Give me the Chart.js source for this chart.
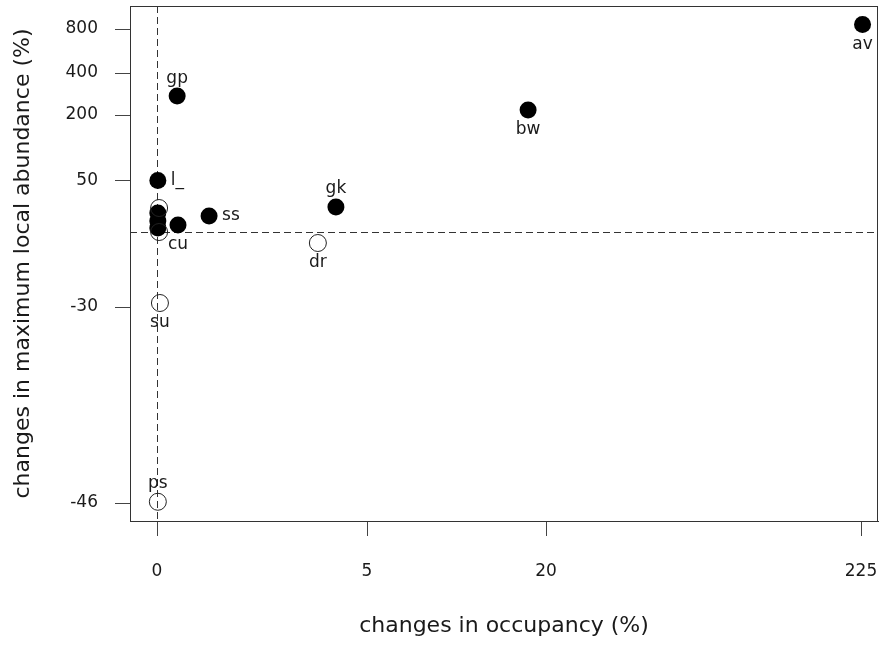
<!DOCTYPE html>
<html>
<head>
<meta charset="utf-8">
<script src="https://cdn.jsdelivr.net/npm/chart.js@4.4.0/dist/chart.umd.min.js"></script>
<style>
  html, body { margin: 0; padding: 0; background: #fff; }
  #wrap { width: 880px; height: 647px; }
</style>
</head>
<body>
<div id="wrap"><canvas id="chart" width="880" height="647"></canvas></div>
<script>
// Species with increased local abundance (filled) and those without (open)
const filledNames = ['av', 'bw', 'gp', 'l_', 'gk', 'ss', 'cu', '', '', ''];
const filledOccupancy = [226, 18.5, 0.48, 0.02, 4.26, 1.24, 0.5, 0.02, 0.02, 0.02];
const filledAbundance = [840, 224, 290, 51, 24.5, 15.7, 6.9, 18.6, 10.8, 3.9];
const filledLabelSide = ['below', 'below', 'above', 'right', 'above', 'right', 'below', '', '', ''];

const openNames = ['dr', 'su', 'ps', '', ''];
const openOccupancy = [3.83, 0.07, 0.02, 0.05, 0.05];
const openAbundance = [-4.4, -28.4, -45.9, 23.5, 0];
const openLabelSide = ['below', 'below', 'above', '', ''];

// tick labels
const xTickValues = [0, 5, 20, 225];
const yTickValues = [-46, -30, 50, 200, 400, 800];

// the axes are warped (not linear) : value -> axis unit anchors
const xWarpValues = [0, 5, 20, 225];
const xWarpUnits = [0, 210, 389, 704];
const yWarpValues = [-46, -30, 0, 50, 200, 400, 800];
const yWarpUnits = [-271, -75, 0, 51, 117, 159, 203];

function warp(v, vals, units) {
    let i = 0;
    if (v <= vals[0]) i = 0;
    else if (v >= vals[vals.length - 1]) i = vals.length - 2;
    else while (v > vals[i + 1]) i++;
    const t = (v - vals[i]) / (vals[i + 1] - vals[i]);
    return units[i] + t * (units[i + 1] - units[i]);
}
const wx = v => warp(v, xWarpValues, xWarpUnits);
const wy = v => warp(v, yWarpValues, yWarpUnits);

const FONT = 'DejaVu Sans';
const INK = '#1a1a1a';

// labels next to the points, zero reference lines, plot box
const rPlotPlugin = {
    id: 'rPlot',
    beforeDatasetsDraw(chart) {
        const { ctx, chartArea: a, scales } = chart;
        const x0 = scales.x.getPixelForValue(wx(0));
        const y0 = scales.y.getPixelForValue(wy(0));
        ctx.save();
        ctx.strokeStyle = '#333';
        ctx.lineWidth = 1;
        ctx.setLineDash([7, 4]);
        ctx.beginPath();
        ctx.moveTo(a.left, Math.round(y0) + 0.5);
        ctx.lineTo(a.right, Math.round(y0) + 0.5);
        ctx.moveTo(Math.round(x0) + 0.5, a.top);
        ctx.lineTo(Math.round(x0) + 0.5, a.bottom);
        ctx.stroke();
        ctx.restore();
    },
    afterDatasetsDraw(chart) {
        const { ctx } = chart;
        ctx.save();
        ctx.font = '17px "' + FONT + '"';
        ctx.fillStyle = INK;
        chart.data.datasets.forEach((ds, di) => {
            const meta = chart.getDatasetMeta(di);
            ds.names.forEach((name, i) => {
                if (!name) return;
                const p = meta.data[i];
                const side = ds.sides[i];
                if (side === 'right') {
                    ctx.textAlign = 'left';
                    ctx.textBaseline = 'middle';
                    ctx.fillText(name, p.x + 13, p.y);
                } else if (side === 'above') {
                    ctx.textAlign = 'center';
                    ctx.textBaseline = 'middle';
                    ctx.fillText(name, p.x, p.y - 18);
                } else {
                    ctx.textAlign = 'center';
                    ctx.textBaseline = 'middle';
                    ctx.fillText(name, p.x, p.y + 20);
                }
            });
        });
        ctx.restore();
    },
    afterDraw(chart) {
        const { ctx, chartArea: a } = chart;
        ctx.save();
        ctx.strokeStyle = '#333';
        ctx.lineWidth = 1;
        ctx.strokeRect(a.left + 0.5, a.top + 0.5, a.right - a.left - 1, a.bottom - a.top);
        ctx.restore();
    }
};

const openData = openOccupancy.map((v, i) => ({ x: wx(v), y: wy(openAbundance[i]) }));
const filledData = filledOccupancy.map((v, i) => ({ x: wx(v), y: wy(filledAbundance[i]) }));

new Chart(document.getElementById('chart'), {
    type: 'scatter',
    data: {
        datasets: [
            {
                data: openData,
                names: openNames,
                sides: openLabelSide,
                pointRadius: 8.5,
                pointHoverRadius: 8.5,
                pointBackgroundColor: 'rgba(0,0,0,0)',
                pointBorderColor: '#222',
                pointBorderWidth: 1
            },
            {
                data: filledData,
                names: filledNames,
                sides: filledLabelSide,
                pointRadius: 8.5,
                pointHoverRadius: 8.5,
                pointBackgroundColor: '#000',
                pointBorderColor: '#000',
                pointBorderWidth: 0
            }
        ]
    },
    options: {
        responsive: false,
        animation: false,
        devicePixelRatio: 1,
        layout: { autoPadding: false, padding: { top: 6, right: 2, left: 0, bottom: 0 } },
        plugins: { legend: { display: false }, tooltip: { enabled: false } },
        scales: {
            x: {
                type: 'linear',
                min: -27,
                max: 721,
                afterBuildTicks: s => { s.ticks = xTickValues.map(v => ({ value: wx(v) })); },
                afterFit: s => {
                    s.height = 126;
                    s.paddingLeft = 0;
                    s.paddingRight = 0;
                },
                ticks: {
                    callback: (val, i) => String(xTickValues[i]),
                    font: { family: FONT, size: 17 },
                    color: INK,
                    padding: 25,
                    maxRotation: 0,
                    autoSkip: false
                },
                grid: { drawOnChartArea: false, drawTicks: true, tickLength: 15, color: '#444' },
                border: { display: true, color: '#333' },
                title: {
                    display: true,
                    text: 'changes in occupancy (%)',
                    font: { family: FONT, size: 22 },
                    color: INK,
                    padding: { top: 0, bottom: 8 }
                }
            },
            y: {
                type: 'linear',
                min: -289,
                max: 226,
                afterBuildTicks: s => { s.ticks = yTickValues.map(v => ({ value: wy(v) })); },
                afterFit: s => {
                    s.width = 130;
                    s.paddingTop = 0;
                    s.paddingBottom = 0;
                },
                ticks: {
                    callback: (val, i) => String(yTickValues[i]),
                    font: { family: FONT, size: 17 },
                    color: INK,
                    padding: 17,
                    autoSkip: false
                },
                grid: { drawOnChartArea: false, drawTicks: true, tickLength: 15, color: '#444' },
                border: { display: true, color: '#333' },
                title: {
                    display: true,
                    text: 'changes in maximum local abundance (%)',
                    font: { family: FONT, size: 22 },
                    color: INK,
                    padding: { top: 10, bottom: 0 }
                }
            }
        }
    },
    plugins: [rPlotPlugin]
});
</script>
</body>
</html>
